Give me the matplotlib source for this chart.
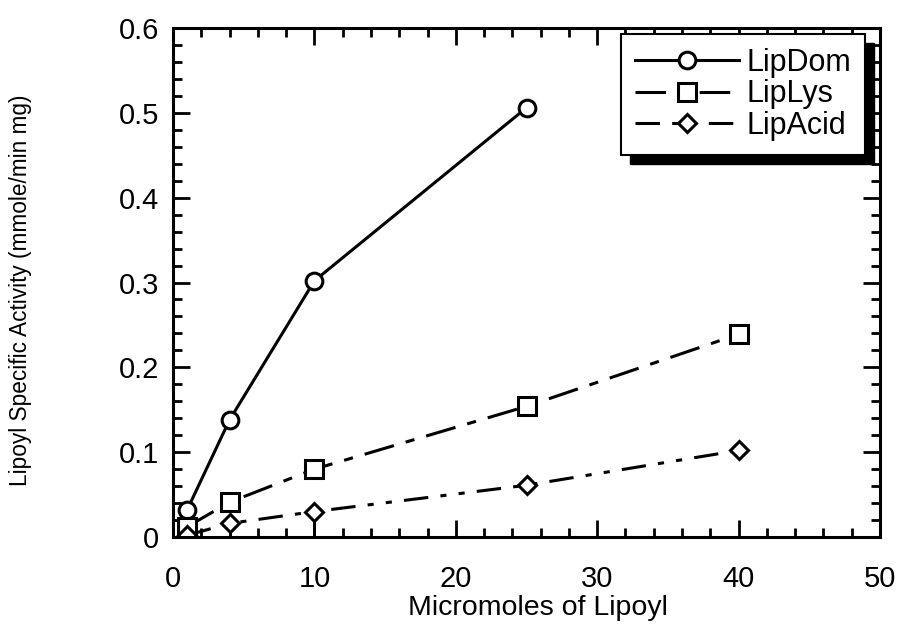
import matplotlib
matplotlib.use("Agg")
import matplotlib.pyplot as plt
from matplotlib.patches import Rectangle
from matplotlib.ticker import MultipleLocator

plt.rcParams['font.family'] = ['Liberation Sans', 'DejaVu Sans']

x_dom = [1, 4, 10, 25]
lipdom = [0.032, 0.138, 0.302, 0.506]
x_lys = [1, 4, 10, 25, 40]
liplys = [0.012, 0.041, 0.080, 0.154, 0.239]
x_acid = [1, 4, 10, 25, 40]
lipacid = [0.002, 0.016, 0.030, 0.061, 0.102]
acid_err_low = [0, 0.016, 0.030, 0, 0]
yticks = [0, 0.1, 0.2, 0.3, 0.4, 0.5, 0.6]
ytick_labels = ['0', '0.1', '0.2', '0.3', '0.4', '0.5', '0.6']

fig = plt.figure(figsize=(8.98, 6.26), dpi=100)
ax = fig.add_axes([173/898, 1-537/626, (880-173)/898, (537-28)/626])

lw = 2.2
mkw = dict(markerfacecolor='white', markeredgecolor='black', markeredgewidth=2.2)
ax.errorbar(x_acid, lipacid, yerr=[acid_err_low, [0]*5], fmt='none', ecolor='black',
            elinewidth=2.0, capsize=0, zorder=2)
l1, = ax.plot(x_dom, lipdom, color='black', lw=lw, marker='o', markersize=12, label='LipDom', **mkw)
l2, = ax.plot(x_lys, liplys, color='black', lw=lw, marker='s', markersize=13,
              linestyle=(0, (10, 4, 3, 4)), label='LipLys', **mkw)
l3, = ax.plot(x_acid, lipacid, color='black', lw=lw, marker='D', markersize=9.5,
              linestyle=(0, (8, 4, 2, 4, 2, 4)), label='LipAcid', **mkw)

ax.set_xlim(0, 50)
ax.set_ylim(0, 0.6)
ax.xaxis.set_major_locator(MultipleLocator(10))
ax.xaxis.set_minor_locator(MultipleLocator(2))
ax.set_yticks(yticks)
ax.set_yticklabels(ytick_labels)
ax.yaxis.set_minor_locator(MultipleLocator(0.02))
ax.tick_params(which='both', direction='in', top=True, right=True, width=2.0, labelsize=21)
ax.tick_params(which='major', length=12)
ax.tick_params(which='minor', length=6.5)
ax.tick_params(axis='x', which='major', pad=20)
ax.tick_params(axis='y', which='major', pad=10)
for s in ax.spines.values():
    s.set_linewidth(2.2)

ax.set_xlabel('Micromoles of Lipoyl', fontsize=20.5)
ax.xaxis.label.set_va('center')
ax.xaxis.set_label_coords(0.516, -0.139)
ax.set_ylabel('Lipoyl Specific Activity (mmole/min mg)', fontsize=16.3)
ax.yaxis.set_label_coords(-0.199, 0.485)

leg = ax.legend(handles=[l1, l2, l3], loc='upper right', fontsize=22, frameon=True,
                fancybox=False, edgecolor='black', framealpha=1, handlelength=3.4,
                borderaxespad=0.2, borderpad=0.45, labelspacing=0.05, handletextpad=0.25,
                bbox_to_anchor=(0.987, 1.0))
leg.get_frame().set_linewidth(1.5)
leg.set_zorder(5)

fig.canvas.draw()
bb = leg.get_window_extent()
off = 9
shadow = Rectangle((bb.x0 + off, bb.y0 - off), bb.width, bb.height,
                   transform=None, facecolor='black', edgecolor='black', zorder=4.5)
ax.add_artist(shadow)
shadow.set_clip_on(False)

fig.savefig('out.png', dpi=100)
